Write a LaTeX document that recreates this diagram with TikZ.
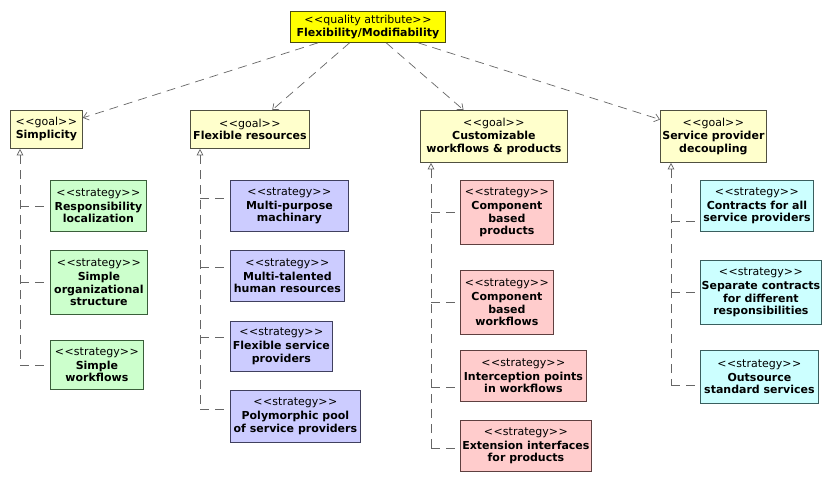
\documentclass[tikz,border=0pt]{standalone}
\usepackage{fontspec}
\setmainfont{DejaVu Sans}
\usetikzlibrary{arrows.meta}
\definecolor{linegray}{HTML}{666666}
\definecolor{topfill}{HTML}{FFFF00}
\definecolor{topdraw}{HTML}{4A4A10}
\definecolor{goalfill}{HTML}{FFFFCC}
\definecolor{goaldraw}{HTML}{505040}
\definecolor{greenfill}{HTML}{CCFFCC}
\definecolor{greendraw}{HTML}{3A5E3A}
\definecolor{bluefill}{HTML}{CCCCFF}
\definecolor{bluedraw}{HTML}{40405E}
\definecolor{pinkfill}{HTML}{FFCCCC}
\definecolor{pinkdraw}{HTML}{5E4040}
\definecolor{cyanfill}{HTML}{CCFFFF}
\definecolor{cyandraw}{HTML}{3A5E5E}
\newcommand{\stereo}[1]{<\kern0.6pt<#1>\kern0.6pt>}
\tikzset{
  umlbox/.style={draw, line width=0.8pt, anchor=north west, align=center,
    inner sep=1pt, font=\fontsize{11}{12.8}\selectfont},
  topbox/.style={umlbox, fill=topfill, draw=topdraw},
  goalbox/.style={umlbox, fill=goalfill, draw=goaldraw},
  greenbox/.style={umlbox, fill=greenfill, draw=greendraw},
  bluebox/.style={umlbox, fill=bluefill, draw=bluedraw},
  pinkbox/.style={umlbox, fill=pinkfill, draw=pinkdraw},
  cyanbox/.style={umlbox, fill=cyanfill, draw=cyandraw},
  dep/.style={draw=linegray, line width=0.7pt, dash pattern=on 9pt off 6pt},
  deparrow/.style={dep, -{Straight Barb[length=5pt,width=8pt]}},
  trunk/.style={dep, {Triangle[open,length=6.5pt,width=6.5pt]}-}
}
\begin{document}
\begin{tikzpicture}[x=1pt,y=-1pt]
\useasboundingbox[fill=white] (0,0) rectangle (830,481);

% top
\node[topbox, minimum width=155, minimum height=31] (top) at (290,11)
  {\stereo{quality attribute}\\\textbf{Flexibility/Modifiability}};

% goals
\node[goalbox, minimum width=72, minimum height=38] (g1) at (10,110)
  {\stereo{goal}\\\textbf{Simplicity}};
\node[goalbox, minimum width=119, minimum height=38] (g2) at (190,110)
  {\stereo{goal}\\\textbf{Flexible resources}};
\node[goalbox, minimum width=147, minimum height=52] (g3) at (420,110)
  {\stereo{goal}\\\textbf{Customizable}\\\textbf{workflows \& products}};
\node[goalbox, minimum width=106, minimum height=52] (g4) at (660,110)
  {\stereo{goal}\\\textbf{Service provider}\\\textbf{decoupling}};

% strategies column 1
\node[greenbox, minimum width=96, minimum height=51] (s11) at (50,180)
  {\stereo{strategy}\\[1pt]\textbf{Responsibility}\\\textbf{localization}};
\node[greenbox, minimum width=97, minimum height=64] (s12) at (50,250)
  {\stereo{strategy}\\[1pt]\textbf{Simple}\\\textbf{organizational}\\\textbf{structure}};
\node[greenbox, minimum width=93, minimum height=49] (s13) at (50,340)
  {\stereo{strategy}\\[1pt]\textbf{Simple}\\\textbf{workflows}};

% column 2
\node[bluebox, minimum width=118, minimum height=51] (s21) at (230,180)
  {\stereo{strategy}\\[1pt]\textbf{Multi-purpose}\\\textbf{machinary}};
\node[bluebox, minimum width=114, minimum height=51] (s22) at (230,250)
  {\stereo{strategy}\\[1pt]\textbf{Multi-talented}\\\textbf{human resources}};
\node[bluebox, minimum width=102, minimum height=50] (s23) at (230,321)
  {\stereo{strategy}\\[1pt]\textbf{Flexible service}\\\textbf{providers}};
\node[bluebox, minimum width=130, minimum height=52] (s24) at (230,390)
  {\stereo{strategy}\\[1pt]\textbf{Polymorphic pool}\\\textbf{of service providers}};

% column 3
\node[pinkbox, minimum width=93, minimum height=64] (s31) at (460,180)
  {\stereo{strategy}\\[1pt]\textbf{Component}\\\textbf{based}\\\textbf{products}};
\node[pinkbox, minimum width=93, minimum height=64] (s32) at (460,270)
  {\stereo{strategy}\\[1pt]\textbf{Component}\\\textbf{based}\\\textbf{workflows}};
\node[pinkbox, minimum width=126, minimum height=51] (s33) at (460,350)
  {\stereo{strategy}\\[1pt]\textbf{Interception points}\\\textbf{in workflows}};
\node[pinkbox, minimum width=131, minimum height=51] (s34) at (460,420)
  {\stereo{strategy}\\[1pt]\textbf{Extension interfaces}\\\textbf{for products}};

% column 4
\node[cyanbox, minimum width=113, minimum height=51] (s41) at (700,180)
  {\stereo{strategy}\\[1pt]\textbf{Contracts for all}\\\textbf{service providers}};
\node[cyanbox, minimum width=121, minimum height=64] (s42) at (700,260)
  {\stereo{strategy}\\[1pt]\textbf{Separate contracts}\\\textbf{for different}\\\textbf{responsibilities}};
\node[cyanbox, minimum width=118, minimum height=53] (s43) at (700,350)
  {\stereo{strategy}\\[1pt]\textbf{Outsource}\\\textbf{standard services}};

% top -> goals
\draw[deparrow] (top) -- (g1);
\draw[deparrow] (top) -- (g2);
\draw[deparrow] (top) -- (g3);
\draw[deparrow] (top) -- (g4);

% branch points on strategy left edges
\coordinate (b11) at (50,206);
\coordinate (b12) at (50,282);
\coordinate (b13) at (50,365);
\coordinate (b21) at (230,198);
\coordinate (b22) at (230,267);
\coordinate (b23) at (230,337);
\coordinate (b24) at (230,409);
\coordinate (b31) at (460,212);
\coordinate (b32) at (460,302);
\coordinate (b33) at (460,387);
\coordinate (b34) at (460,448);
\coordinate (b41) at (700,221);
\coordinate (b42) at (700,292);
\coordinate (b43) at (700,385);

% trunk x positions
\coordinate (t1) at (20,0);
\coordinate (t2) at (200,0);
\coordinate (t3) at (431,0);
\coordinate (t4) at (671,0);

% trunks
\draw[trunk] (t1 |- g1.south) -- (t1 |- b13);
\draw[trunk] (t2 |- g2.south) -- (t2 |- b24);
\draw[trunk] (t3 |- g3.south) -- (t3 |- b34);
\draw[trunk] (t4 |- g4.south) -- (t4 |- b43);

% branches
\foreach \b/\t in {b11/t1,b12/t1,b13/t1,b21/t2,b22/t2,b23/t2,b24/t2,
                   b31/t3,b32/t3,b33/t3,b34/t3,b41/t4,b42/t4,b43/t4}
  \draw[dep] (\t |- \b) -- (\b);
\end{tikzpicture}
\end{document}
